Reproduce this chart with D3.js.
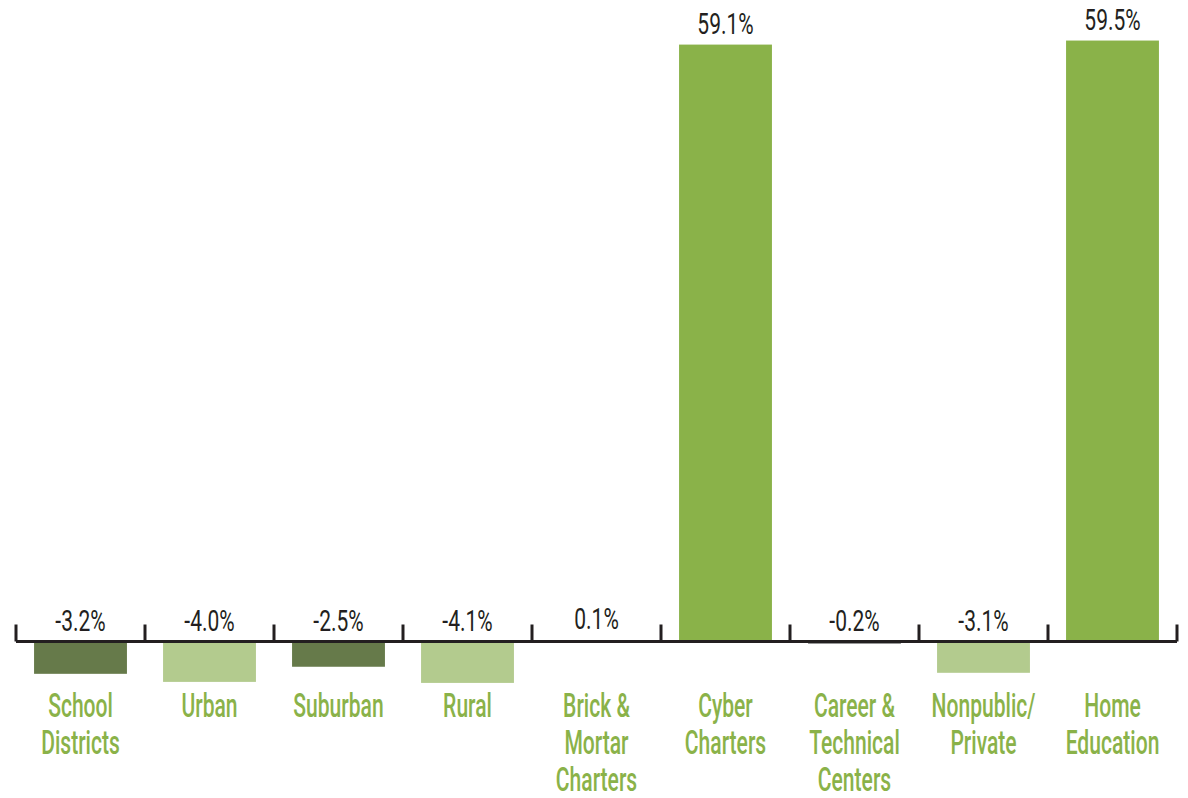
<!DOCTYPE html>
<html>
<head>
<meta charset="utf-8">
<script src="https://cdn.jsdelivr.net/npm/d3@7"></script>
<style>
  body { margin: 0; background: #fff; }
  text { font-family: Roboto, "Liberation Sans", "DejaVu Sans Condensed", sans-serif; }
</style>
</head>
<body>
<div id="chart"></div>
<script>
// Chart data
var categories = ["School Districts", "Urban", "Suburban", "Rural", "Brick & Mortar Charters",
                  "Cyber Charters", "Career & Technical Centers", "Nonpublic/Private", "Home Education"];
var labelLines = [["School", "Districts"], ["Urban"], ["Suburban"], ["Rural"], ["Brick &", "Mortar", "Charters"],
                  ["Cyber", "Charters"], ["Career &", "Technical", "Centers"], ["Nonpublic/", "Private"], ["Home", "Education"]];
var values = [-3.2, -4.0, -2.5, -4.1, 0.1, 59.1, -0.2, -3.1, 59.5];
var valueLabels = ["-3.2%", "-4.0%", "-2.5%", "-4.1%", "0.1%", "59.1%", "-0.2%", "-3.1%", "59.5%"];
var barColors = ["#667a4a", "#b3cb8e", "#667a4a", "#b3cb8e", "#d6d6d6", "#8ab249", "#3a3a3a", "#b3cb8e", "#8ab249"];

var svgWidth = 1188;
var svgHeight = 798;
var zeroY = 641.5;
var pxPerUnit = 10.1;

var svg = d3.select("#chart")
  .append("svg")
  .attr("width", svgWidth)
  .attr("height", svgHeight);

// Scales
var x = d3.scaleBand()
  .domain(categories)
  .range([16, 1177])
  .paddingInner(0.28)
  .paddingOuter(0.14);

var y = d3.scaleLinear()
  .domain([-6, 62])
  .range([zeroY + 6 * pxPerUnit, zeroY - 62 * pxPerUnit]);

// Bars
svg.selectAll("rect.bar")
  .data(values)
  .enter()
  .append("rect")
  .attr("class", "bar")
  .attr("x", function (d, i) { return x(categories[i]); })
  .attr("width", x.bandwidth())
  .attr("y", function (d) { return d >= 0 ? y(d) : y(0); })
  .attr("height", function (d) { return Math.abs(y(d) - y(0)); })
  .attr("fill", function (d, i) { return barColors[i]; });

// Axis line with ticks at category boundaries
var step = x.step();
var x0 = x.range()[0];
svg.append("line")
  .attr("x1", x0).attr("x2", x.range()[1])
  .attr("y1", y(0)).attr("y2", y(0))
  .attr("stroke", "#231f20").attr("stroke-width", 3);

svg.selectAll("line.tick")
  .data(d3.range(categories.length + 1))
  .enter()
  .append("line")
  .attr("class", "tick")
  .attr("x1", function (i) { return x0 + i * step; })
  .attr("x2", function (i) { return x0 + i * step; })
  .attr("y1", y(0) - 17)
  .attr("y2", y(0))
  .attr("stroke", "#231f20").attr("stroke-width", 3);

// Value labels (condensed by horizontal scaling)
svg.selectAll("g.value")
  .data(values)
  .enter()
  .append("g")
  .attr("class", "value")
  .attr("transform", function (d, i) {
    var cx = x(categories[i]) + x.bandwidth() / 2;
    var ty = Math.min(y(d), y(0)) - 11;
    return "translate(" + cx + "," + ty + ") scale(0.7,1)";
  })
  .append("text")
  .attr("text-anchor", "middle")
  .attr("font-size", 30)
  .attr("font-weight", 400)
  .attr("fill", "#231f20")
  .text(function (d, i) { return valueLabels[i]; });

// Category labels
var cat = svg.selectAll("g.cat")
  .data(labelLines)
  .enter()
  .append("g")
  .attr("class", "cat")
  .attr("transform", function (d, i) {
    var cx = x(categories[i]) + x.bandwidth() / 2;
    return "translate(" + cx + ",717) scale(0.62,1)";
  });

cat.selectAll("text")
  .data(function (d) { return d; })
  .enter()
  .append("text")
  .attr("text-anchor", "middle")
  .attr("y", function (d, j) { return j * 37; })
  .attr("font-size", 34)
  .attr("font-weight", 500)
  .attr("fill", "#8ab249")
  .text(function (d) { return d; });
</script>
</body>
</html>
